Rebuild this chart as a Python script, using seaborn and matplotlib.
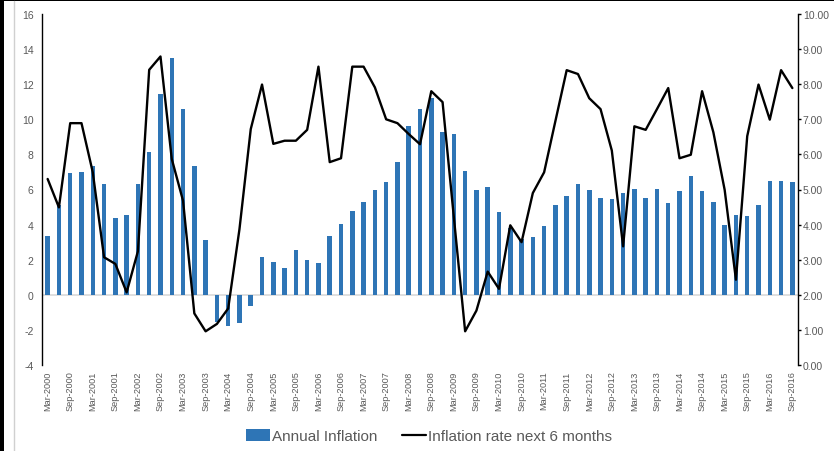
import numpy as np
import pandas as pd
import matplotlib
matplotlib.use("Agg")
import matplotlib.pyplot as plt
from matplotlib.lines import Line2D
from matplotlib.patches import Rectangle, Patch
import seaborn as sns

# Quarterly periods, Mar-2000 .. Sep-2016
years = list(range(2000, 2017))
months = ["Mar", "Jun", "Sep", "Dec"]
quarters = [f"{m}-{y}" for y in years for m in months][:67]

# Annual inflation (%), left axis
annual_inflation = [
    3.34, 5.13, 6.95, 7.00, 7.35, 6.29, 4.39, 4.54, 6.29, 8.15,
    11.45, 13.50, 10.60, 7.35, 3.13, -1.56, -1.75, -1.60, -0.61, 2.15,
    1.88, 1.54, 2.55, 1.99, 1.82, 3.34, 4.05, 4.79, 5.30, 5.98,
    6.44, 7.54, 9.63, 10.60, 11.24, 9.29, 9.15, 7.08, 5.98, 6.13,
    4.73, 3.80, 3.19, 3.28, 3.93, 5.09, 5.64, 6.29, 5.98, 5.53,
    5.45, 5.79, 6.04, 5.49, 6.04, 5.24, 5.93, 6.78, 5.93, 5.28,
    3.99, 4.54, 4.48, 5.13, 6.50, 6.48, 6.44,
]

# Inflation rate over the next 6 months (%), right axis
next_6m_rate = [
    5.30, 4.49, 6.89, 6.89, 5.49, 3.07, 2.88, 2.07, 3.24, 8.41,
    8.79, 5.87, 4.68, 1.47, 0.96, 1.17, 1.61, 3.87, 6.72, 7.99,
    6.30, 6.39, 6.39, 6.70, 8.50, 5.78, 5.89, 8.50, 8.50, 7.91,
    7.00, 6.89, 6.58, 6.29, 7.80, 7.49, 4.21, 0.96, 1.55, 2.66,
    2.17, 3.98, 3.50, 4.90, 5.49, 6.95, 8.40, 8.29, 7.60, 7.29,
    6.11, 3.38, 6.80, 6.70, 7.29, 7.89, 5.89, 5.99, 7.80, 6.63,
    4.99, 2.43, 6.52, 7.99, 6.99, 8.40, 7.89,
]

left_ticks = [-4, -2, 0, 2, 4, 6, 8, 10, 12, 14, 16]
right_ticks = [0, 1, 2, 3, 4, 5, 6, 7, 8, 9, 10]

df = pd.DataFrame({
    "quarter": quarters,
    "idx": np.arange(len(quarters)),
    "annual": annual_inflation,
    "next6": next_6m_rate,
})

sns.set_theme(style="white")
plt.rcParams["font.family"] = ["Liberation Sans Narrow", "Liberation Sans", "DejaVu Sans"]

BLUE = "#2E75B6"
GREY_TXT = "#595959"

fig = plt.figure(figsize=(8.34, 4.52), dpi=100)
ax = fig.add_axes([42 / 834, 1 - 366 / 452, (798 - 42) / 834, (366 - 15) / 452])

sns.barplot(data=df, x="quarter", y="annual", color=BLUE, saturation=1,
            width=0.4, linewidth=0, edgecolor="none", ax=ax, zorder=2)
ax.set_xlim(-0.5, len(quarters) - 0.5)
ax.set_ylim(-4, 16)
ax.axhline(0, color="#D9D9D9", lw=1.2, zorder=1)

ax2 = ax.twinx()
sns.lineplot(data=df, x="idx", y="next6", color="black", lw=1.7, ax=ax2,
             zorder=3)
ax2.set_ylim(0, 10)
ax2.set_xlim(-0.5, len(quarters) - 0.5)

# Axis styling
for a in (ax, ax2):
    a.set_xlabel("")
    a.set_ylabel("")
    for s in a.spines.values():
        s.set_visible(False)
    a.grid(False)
ax.patch.set_visible(False)

ax.spines["left"].set_visible(True)
ax.spines["left"].set_color("black")
ax.spines["left"].set_linewidth(1.0)
ax2.spines["right"].set_visible(True)
ax2.spines["right"].set_color("black")
ax2.spines["right"].set_linewidth(1.0)

ax.set_yticks(left_ticks)
ax.set_yticklabels([str(t) for t in left_ticks])
ax.tick_params(axis="y", left=False, length=0, pad=6.0, labelsize=7.5,
               labelcolor=GREY_TXT)

ax2.set_yticks(right_ticks)
ax2.set_yticklabels([f"{t:.2f}" for t in right_ticks])
ax2.tick_params(axis="y", right=True, direction="out", length=2.5, width=1.0,
                color="black", pad=1.0, labelsize=7.5, labelcolor=GREY_TXT)

tick_pos = list(range(0, len(quarters), 2))
ax.set_xticks(tick_pos)
ax.set_xticklabels([quarters[i] for i in tick_pos], rotation=90,
                   fontsize=6.6, color=GREY_TXT)
ax.tick_params(axis="x", bottom=False, length=0, pad=4)
ax2.tick_params(axis="x", bottom=False, top=False, labelbottom=False)

# Legend below the plot
handles = [
    Patch(facecolor=BLUE, edgecolor="none", label="Annual Inflation"),
    Line2D([0], [0], color="black", lw=1.6, label="Inflation rate next 6 months"),
]
fig.legend(handles=handles, loc="center", bbox_to_anchor=(429 / 834, 1 - 437 / 452),
           ncol=2, frameon=False, fontsize=11, handlelength=1.55,
           handleheight=0.8, handletextpad=0.15, columnspacing=1.6,
           labelcolor=GREY_TXT)

# Outer chart frame
fig.add_artist(Rectangle((0, 0), 4 / 834, 1, transform=fig.transFigure,
                         facecolor="black", edgecolor="none"))
fig.add_artist(Rectangle((0, 1 - 2 / 452), 1, 2 / 452, transform=fig.transFigure,
                         facecolor="black", edgecolor="none"))
fig.add_artist(Line2D([14 / 834, 14 / 834], [0, 1 - 2 / 452],
                      transform=fig.transFigure, color="#D0D0D0", lw=1.0))

fig.savefig("out.png", dpi=100)
